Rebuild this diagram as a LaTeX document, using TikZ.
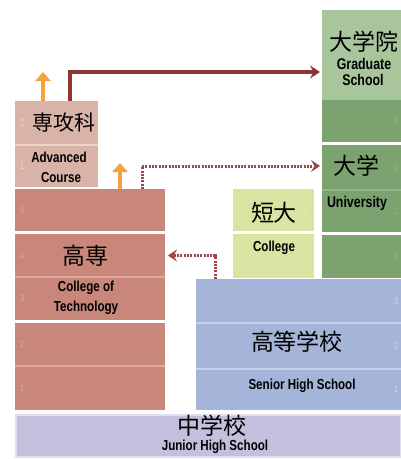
\documentclass[tikz,border=0pt]{standalone}
\usepackage{fontspec}
\newfontfamily\cjk{Noto Sans CJK JP}
\newfontfamily\en[FakeStretch=0.8]{Liberation Sans}
\usetikzlibrary{arrows.meta,calc}
\definecolor{advC}{HTML}{D9B2A8}
\definecolor{advL}{HTML}{EDD5CE}
\definecolor{kosC}{HTML}{C8877A}
\definecolor{kosL}{HTML}{DDA99D}
\definecolor{tanC}{HTML}{DAE3A2}
\definecolor{uniC}{HTML}{7CA270}
\definecolor{uniL}{HTML}{94B589}
\definecolor{graC}{HTML}{A9C59C}
\definecolor{senC}{HTML}{A5B4D9}
\definecolor{senL}{HTML}{C6D1EE}
\definecolor{junC}{HTML}{C5BFDE}
\definecolor{junL}{HTML}{E2DEF0}
\definecolor{arrR}{HTML}{8E3535}
\definecolor{dotR}{HTML}{9C4848}
\definecolor{orng}{HTML}{F2A33E}
\begin{document}
\begin{tikzpicture}[x=1pt,y=-1pt,
  box/.style={anchor=north west, inner sep=0pt, outer sep=0pt},
  jp/.style={font=\cjk\fontsize{23}{23}\selectfont, text=black, inner sep=0pt},
  enl/.style={font=\en\bfseries\fontsize{14.5}{14.5}\selectfont, text=black, inner sep=0pt},
  enbig/.style={font=\en\bfseries\fontsize{15.5}{15.5}\selectfont, text=black, inner sep=0pt},
  yr/.style={font=\en\fontsize{10}{10}\selectfont, inner sep=0pt},
  sep/.style={line width=1.5pt},
  solidarr/.style={draw=arrR, line width=3.4pt, -{Stealth[length=10pt,width=13pt,inset=3.5pt]}},
  dotarr/.style={draw=dotR, line width=3pt, dash pattern=on 2pt off 1.3pt, -{Stealth[length=9pt,width=12pt,inset=3.5pt]}},
  uparr/.style={draw=orng, line width=4pt, -{Triangle[length=9pt,width=15pt]}}
]
\useasboundingbox (0,0) rectangle (401,459);
\fill[white] (0,0) rectangle (401,459);
% boxes
\node[box, fill=graC, minimum width=79pt, minimum height=90pt] (grad) at (322,10) {};
\node[box, fill=uniC, minimum width=79pt, minimum height=42pt] (u4) at (322,100) {};
\node[box, fill=uniC, minimum width=79pt, minimum height=45pt] (u3) at (322,145) {};
\node[box, fill=uniC, minimum width=79pt, minimum height=42pt] (u2) at (322,190) {};
\node[box, fill=uniC, minimum width=79pt, minimum height=43pt] (u1) at (322,235) {};
\node[box, fill=tanC, minimum width=81pt, minimum height=42pt] (t2) at (233,189) {};
\node[box, fill=tanC, minimum width=81pt, minimum height=44pt] (t1) at (233,234) {};
\node[box, fill=advC, minimum width=83pt, minimum height=44pt] (adv2) at (15,101) {};
\node[box, fill=advC, minimum width=83pt, minimum height=42pt] (adv1) at (15,145) {};
\node[box, fill=kosC, minimum width=150pt, minimum height=42pt] (k5) at (15,189) {};
\node[box, fill=kosC, minimum width=150pt, minimum height=43pt] (k4) at (15,234) {};
\node[box, fill=kosC, minimum width=150pt, minimum height=43pt] (k3) at (15,277) {};
\node[box, fill=kosC, minimum width=150pt, minimum height=43pt] (k2) at (15,323) {};
\node[box, fill=kosC, minimum width=150pt, minimum height=44pt] (k1) at (15,366) {};
\node[box, fill=senC, minimum width=205pt, minimum height=44pt] (s3) at (196,279) {};
\node[box, fill=senC, minimum width=205pt, minimum height=46pt] (s2) at (196,323) {};
\node[box, fill=senC, minimum width=205pt, minimum height=41pt] (s1) at (196,369) {};
\node[box, fill=junC, draw=junL, line width=1.5pt, minimum width=385pt, minimum height=42pt] (jun) at (15.75,414.75) {};
% light separators
\draw[sep, advL] (adv1.north west) -- (adv1.north east);
\draw[sep, kosL] (k3.north west) -- (k3.north east);
\draw[sep, kosL] (k1.north west) -- (k1.north east);
\draw[sep, senL] (s2.north west) -- (s2.north east);
\draw[sep, senL] (s1.north west) -- (s1.north east);
\draw[sep, uniL] (u2.north west) -- (u2.north east);
% year numbers
\node[yr, text=advL] (ya2) at (22,123) {2};
\node[yr, text=advL] (ya1) at (22,166) {1};
\node[yr, text=kosL] (yk5) at (22,210) {5};
\node[yr, text=kosL] (yk4) at (22,256) {4};
\node[yr, text=kosL] (yk3) at (22,298) {3};
\node[yr, text=kosL] (yk2) at (22,344) {2};
\node[yr, text=kosL] (yk1) at (22,388) {1};
\node[yr, text=uniL] (yu4) at (396,121) {4};
\node[yr, text=uniL] (yu3) at (396,167) {3};
\node[yr, text=uniL] (yu2) at (396,211) {2};
\node[yr, text=uniL] (yu1) at (396,256) {1};
\node[yr, text=senL] (ys3) at (396,301) {3};
\node[yr, text=senL] (ys2) at (396,346) {2};
\node[yr, text=senL] (ys1) at (396,389) {1};
\node[yr, text=tanC!70!white] (yt2) at (306,213) {2};
\node[yr, text=tanC!70!white] (yt1) at (306,255) {1};
% labels
\node[jp, font=\cjk\fontsize{21}{21}\selectfont] (lAdvJ) at (64,123) {専攻科};
\node[enl] (lAdv1) at (59,157) {Advanced};
\node[enl] (lAdv2) at (61,178) {Course};
\node[jp] (lKosJ) at (86,256) {高専};
\node[enl] (lKos1) at (86,288) {College of};
\node[enl] (lKos2) at (86,308) {Technology};
\node[jp] (lTanJ) at (274,213) {短大};
\node[enl] (lTanE) at (274,248) {College};
\node[jp] (lGraJ) at (364,42) {大学院};
\node[enbig] (lGra1) at (364,64) {Graduate};
\node[enbig] (lGra2) at (363,80) {School};
\node[jp] (lUniJ) at (356,166) {大学};
\node[enbig] (lUniE) at (357,203) {University};
\node[jp] (lSenJ) at (297,342) {高等学校};
\node[enl] (lSenE) at (302,386) {Senior High School};
\node[jp] (lJunJ) at (212,426) {中学校};
\node[enl] (lJunE) at (215,447) {Junior High School};
% connectors
\coordinate (cs1) at ($(adv2.north west)+(55,0)$);
\coordinate (ce1) at ($(grad.west)+(-2,17)$);
\draw[solidarr] (cs1) |- (ce1);
\coordinate (co1s) at ($(adv2.north west)+(28,0)$);
\coordinate (co1e) at ($(adv2.north west)+(28,-29)$);
\draw[uparr] (co1s) -- (co1e);
\coordinate (co2s) at ($(k5.north west)+(105,0)$);
\coordinate (co2e) at ($(k5.north west)+(105,-26)$);
\draw[uparr] (co2s) -- (co2e);
\coordinate (cd1s) at ($(k5.north west)+(127,0)$);
\coordinate (cd1e) at ($(u3.west)+(-2,-1.5)$);
\draw[dotarr] (cd1s) |- (cd1e);
\coordinate (cd2s) at ($(s3.north west)+(19,0)$);
\coordinate (cd2e) at ($(k4.east)+(3,0)$);
\draw[dotarr] (cd2s) |- (cd2e);
\end{tikzpicture}
\end{document}
